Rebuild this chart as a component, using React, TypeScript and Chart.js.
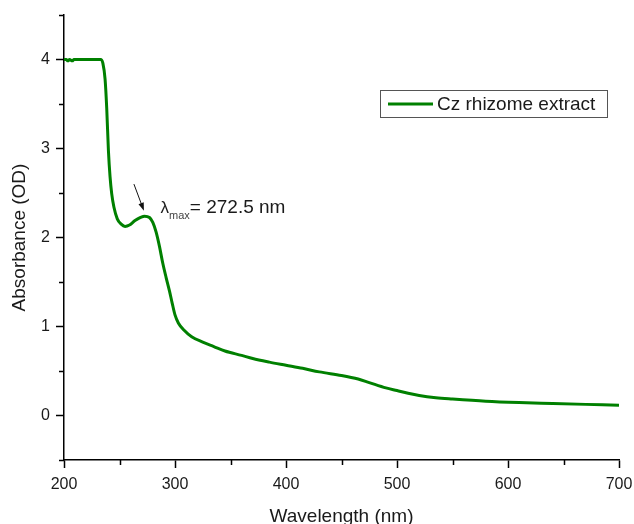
import React, { useEffect, useRef } from "react";
import { Chart, registerables } from "chart.js";

Chart.register(...registerables);

// ---- data ----
const WAVELENGTH = [
  200, 202, 203.5, 205, 207.5, 209, 220, 233, 235, 237, 238.5, 240, 241.5, 243, 245,
  248, 251.5, 255, 259, 264, 269, 272.5, 277, 280, 283, 286, 289, 292, 295, 297.5,
  300, 303, 308, 315, 325, 335, 345, 360, 370, 385, 400, 415, 430, 450, 465,
  475, 490, 500, 510, 520, 535, 550, 580, 610, 640, 670, 700,
];
const ABSORBANCE = [
  4.0, 4.0, 3.985, 4.0, 3.985, 4.0, 4.0, 4.0, 3.96, 3.78, 3.45, 2.98, 2.68, 2.49, 2.34,
  2.21, 2.15, 2.125, 2.14, 2.19, 2.225, 2.24, 2.225, 2.17, 2.06, 1.9, 1.71, 1.55, 1.4, 1.26,
  1.13, 1.04, 0.96, 0.885, 0.825, 0.775, 0.725, 0.675, 0.64, 0.6, 0.565, 0.53, 0.49, 0.45, 0.41,
  0.37, 0.31, 0.28, 0.25, 0.225, 0.2, 0.185, 0.16, 0.145, 0.135, 0.125, 0.115,
];
const SERIES_LABEL = "Cz rhizome extract";
const X_TITLE = "Wavelength (nm)";
const Y_TITLE = "Absorbance (OD)";
const X_MIN = 200;
const X_MAX = 700;
const X_MAJOR = 100;
const X_MINOR = 50;
const Y_MIN = -0.5;
const Y_MAX = 4.5;
const Y_MAJOR = 1;
const Y_MINOR = 0.5;
const PEAK_SYMBOL = "λ";
const PEAK_SUB = "max";
const PEAK_TEXT = "= 272.5 nm";
const ARROW_FROM = [263, 2.6];
const ARROW_TO = [272, 2.3];
const LABEL_AT = [287, 2.27];

const GREEN = "#008000";
const FONT = "'Liberation Sans', Arial, sans-serif";
const TEXT = "#1a1a1a";

const isMultiple = (v: number, step: number) => Math.abs(v / step - Math.round(v / step)) < 1e-6;

const decorPlugin = {
  id: "decor",
  afterDraw(chart: any) {
    const { ctx, chartArea, scales } = chart;
    const x = scales.x;
    const y = scales.y;
    ctx.save();
    // minor ticks
    ctx.strokeStyle = "#000";
    ctx.lineWidth = 1.5;
    ctx.beginPath();
    for (let v = X_MIN; v <= X_MAX + 1e-6; v += X_MINOR) {
      if (isMultiple(v, X_MAJOR)) continue;
      const px = Math.round(x.getPixelForValue(v)) + 0.5;
      ctx.moveTo(px, chartArea.bottom);
      ctx.lineTo(px, chartArea.bottom + 5);
    }
    for (let v = Y_MIN; v <= Y_MAX + 1e-6; v += Y_MINOR) {
      if (isMultiple(v, Y_MAJOR)) continue;
      const py = Math.round(y.getPixelForValue(v)) + 0.5;
      ctx.moveTo(chartArea.left - 5, py);
      ctx.lineTo(chartArea.left, py);
    }
    ctx.stroke();

    // arrow
    const ax0 = x.getPixelForValue(ARROW_FROM[0]);
    const ay0 = y.getPixelForValue(ARROW_FROM[1]);
    const ax1 = x.getPixelForValue(ARROW_TO[0]);
    const ay1 = y.getPixelForValue(ARROW_TO[1]);
    const ang = Math.atan2(ay1 - ay0, ax1 - ax0);
    ctx.strokeStyle = "#111";
    ctx.lineWidth = 1;
    ctx.beginPath();
    ctx.moveTo(ax0, ay0);
    ctx.lineTo(ax1 - 5 * Math.cos(ang), ay1 - 5 * Math.sin(ang));
    ctx.stroke();
    ctx.fillStyle = "#111";
    ctx.beginPath();
    ctx.moveTo(ax1, ay1);
    ctx.lineTo(ax1 - 8 * Math.cos(ang) + 2.8 * Math.sin(ang), ay1 - 8 * Math.sin(ang) - 2.8 * Math.cos(ang));
    ctx.lineTo(ax1 - 8 * Math.cos(ang) - 2.8 * Math.sin(ang), ay1 - 8 * Math.sin(ang) + 2.8 * Math.cos(ang));
    ctx.closePath();
    ctx.fill();

    // peak label
    const lx = x.getPixelForValue(LABEL_AT[0]);
    const ly = y.getPixelForValue(LABEL_AT[1]);
    ctx.fillStyle = TEXT;
    ctx.textBaseline = "alphabetic";
    ctx.textAlign = "left";
    ctx.font = `17px ${FONT}`;
    ctx.fillText(PEAK_SYMBOL, lx, ly);
    const lw = ctx.measureText(PEAK_SYMBOL).width;
    ctx.font = `11px ${FONT}`;
    ctx.fillStyle = "#444";
    ctx.fillText(PEAK_SUB, lx + lw, ly + 6);
    const sw = ctx.measureText(PEAK_SUB).width;
    ctx.font = `19px ${FONT}`;
    ctx.fillStyle = TEXT;
    ctx.fillText(PEAK_TEXT, lx + lw + sw, ly);

    // legend box inside plot
    const ds = chart.data.datasets[0];
    const bx = chartArea.right - 239;
    const by = chartArea.top + 75;
    const bw = 227;
    const bh = 27;
    ctx.strokeStyle = "#555";
    ctx.lineWidth = 1;
    ctx.strokeRect(Math.round(bx) + 0.5, Math.round(by) + 0.5, bw, bh);
    const cy = by + bh / 2 + 0.5;
    ctx.strokeStyle = ds.borderColor;
    ctx.lineWidth = 3;
    ctx.beginPath();
    ctx.moveTo(bx + 8, cy);
    ctx.lineTo(bx + 53, cy);
    ctx.stroke();
    ctx.fillStyle = TEXT;
    ctx.font = `19px ${FONT}`;
    ctx.textBaseline = "middle";
    ctx.fillText(ds.label, bx + 57, cy + 1);
    ctx.restore();
  },
};

export default function App() {
  const ref = useRef<HTMLCanvasElement | null>(null);

  useEffect(() => {
    if (!ref.current) return;
    const points = WAVELENGTH.map((w, i) => ({ x: w, y: ABSORBANCE[i] }));
    const chart = new Chart(ref.current, {
      type: "line",
      data: {
        datasets: [
          {
            label: SERIES_LABEL,
            data: points,
            borderColor: GREEN,
            backgroundColor: GREEN,
            borderWidth: 3,
            pointRadius: 0,
            cubicInterpolationMode: "monotone",
            fill: false,
          },
        ],
      },
      options: {
        animation: false,
        responsive: false,
        layout: { padding: { top: 15, right: 15, left: 0, bottom: 0 } },
        plugins: {
          legend: { display: false },
          tooltip: { enabled: false },
        },
        scales: {
          x: {
            type: "linear",
            min: X_MIN,
            max: X_MAX,
            border: { display: true, color: "#000", width: 1.5 },
            grid: {
              drawOnChartArea: false,
              drawTicks: true,
              tickLength: 8,
              tickWidth: 1.5,
              tickColor: (c: any) =>
                c.tick && isMultiple(c.tick.value, X_MAJOR) ? "#000" : "rgba(0,0,0,0)",
            },
            ticks: {
              stepSize: X_MINOR,
              autoSkip: false,
              maxRotation: 0,
              padding: 7,
              color: TEXT,
              font: { family: FONT, size: 16 },
              callback: (v: any) => (isMultiple(Number(v), X_MAJOR) ? String(v) : ""),
            },
            title: {
              display: true,
              text: X_TITLE,
              color: TEXT,
              font: { family: FONT, size: 19, lineHeight: 0.8 },
              padding: 0,
            },
            afterFit: (s: any) => {
              s.height = 64;
              s.paddingLeft = 0;
              s.paddingRight = 0;
            },
          },
          y: {
            type: "linear",
            min: Y_MIN,
            max: Y_MAX,
            border: { display: true, color: "#000", width: 1.5 },
            grid: {
              drawOnChartArea: false,
              drawTicks: true,
              tickLength: 8,
              tickWidth: 1.5,
              tickColor: (c: any) =>
                c.tick && isMultiple(c.tick.value, Y_MAJOR) ? "#000" : "rgba(0,0,0,0)",
            },
            ticks: {
              stepSize: Y_MINOR,
              autoSkip: false,
              padding: 6,
              color: TEXT,
              font: { family: FONT, size: 16 },
              callback: (v: any) => (isMultiple(Number(v), Y_MAJOR) ? String(v) : ""),
            },
            title: {
              display: true,
              text: Y_TITLE,
              color: TEXT,
              font: { family: FONT, size: 19 },
              padding: { top: 8, bottom: 0 },
            },
            afterFit: (s: any) => {
              s.width = 64;
              s.paddingTop = 0;
              s.paddingBottom = 0;
            },
          },
        },
      },
      plugins: [decorPlugin],
    });
    return () => chart.destroy();
  }, []);

  return (
    <div style={{ position: "absolute", left: 0, top: 0, width: 634, height: 524, background: "#fff" }}>
      <canvas ref={ref} width={634} height={524} style={{ display: "block" }} />
    </div>
  );
}
